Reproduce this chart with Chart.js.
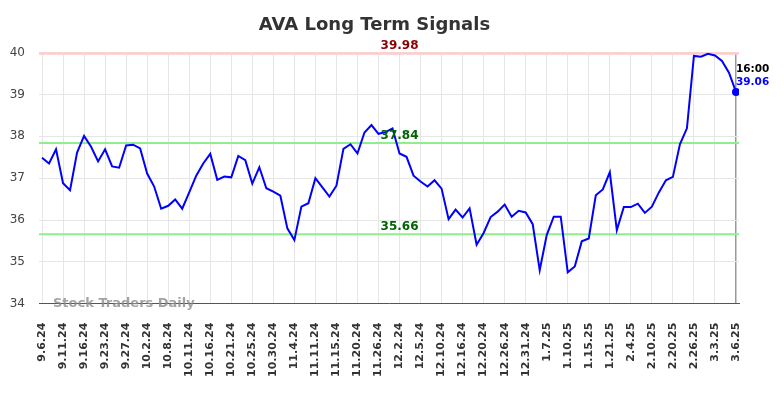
<!DOCTYPE html>
<html><head><meta charset="utf-8">
<script src="https://cdn.jsdelivr.net/npm/chart.js@4.4.1/dist/chart.umd.min.js"></script>
<style>html,body{margin:0;padding:0;background:#fff}#wrap{width:784px;height:398px}</style>
</head><body><div id="wrap"><canvas id="c" width="784" height="398"></canvas></div>
<script>
const chartTitle = 'AVA Long Term Signals';
const tickLabels = ['9.6.24','9.11.24','9.16.24','9.23.24','9.27.24','10.2.24','10.8.24','10.11.24','10.16.24','10.21.24','10.25.24','10.30.24','11.4.24','11.11.24','11.15.24','11.20.24','11.26.24','12.2.24','12.5.24','12.10.24','12.16.24','12.20.24','12.26.24','12.31.24','1.7.25','1.10.25','1.15.25','1.21.25','2.4.25','2.10.25','2.20.25','2.26.25','3.3.25','3.6.25'];
const values = [
 37.49,37.35,37.69,36.88,36.71,37.61,38.01,37.75,37.40,37.69,
 37.28,37.25,37.78,37.80,37.71,37.11,36.80,36.27,36.34,36.49,
 36.27,36.66,37.06,37.35,37.58,36.96,37.04,37.02,37.53,37.43,
 36.87,37.26,36.76,36.68,36.58,35.80,35.52,36.32,36.40,37.00,
 36.78,36.56,36.82,37.70,37.81,37.59,38.09,38.27,38.06,38.10,
 38.19,37.59,37.51,37.06,36.92,36.80,36.95,36.75,36.02,36.25,
 36.06,36.28,35.41,35.69,36.07,36.20,36.37,36.08,36.22,36.18,
 35.90,34.80,35.64,36.08,36.08,34.75,34.89,35.49,35.56,36.59,
 36.73,37.14,35.76,36.31,36.31,36.39,36.17,36.32,36.66,36.95,
 37.03,37.81,38.19,39.92,39.90,39.97,39.93,39.80,39.52,39.06
];
const resistanceLevels = [39.98];
const supportLevels = [37.84, 35.66];
const lastTimeLabel = '16:00';
const watermarkText = 'Stock Traders Daily';
const pointsPerTick = 3;

const levelPlugin = {
  id: 'levels',
  beforeDatasetsDraw(chart) {
    const {ctx, chartArea: a, scales: {y}} = chart;
    ctx.save();
    const draw = (v, color, w) => {
      const py = y.getPixelForValue(v);
      ctx.strokeStyle = color; ctx.lineWidth = w;
      ctx.beginPath(); ctx.moveTo(a.left, py); ctx.lineTo(a.right, py); ctx.stroke();
    };
    resistanceLevels.forEach(v => draw(v, '#ffcccc', 2.5));
    supportLevels.forEach(v => draw(v, '#90ee90', 2));
    ctx.restore();
  },
  afterDatasetsDraw(chart) {
    const {ctx, scales: {x, y}} = chart;
    ctx.save();
    ctx.font = 'bold 12px "DejaVu Sans"';
    ctx.textAlign = 'center';
    ctx.textBaseline = 'alphabetic';
    const lx = x.getPixelForValue(51);
    resistanceLevels.forEach(v => { ctx.fillStyle = '#8b0000'; ctx.fillText(v.toFixed(2), lx, y.getPixelForValue(v) - 4); });
    supportLevels.forEach(v => { ctx.fillStyle = '#006400'; ctx.fillText(v.toFixed(2), lx, y.getPixelForValue(v) - 4); });
    const li = values.length - 1;
    const px = x.getPixelForValue(li), py = y.getPixelForValue(values[li]);
    ctx.textAlign = 'left'; ctx.textBaseline = 'middle';
    ctx.font = 'bold 10.5px "DejaVu Sans"';
    ctx.fillStyle = '#000'; ctx.fillText(lastTimeLabel, px, py - 23);
    ctx.fillStyle = '#0000ff'; ctx.fillText(values[li].toFixed(2), px, py - 10);
    ctx.restore();
  },
  afterDraw(chart) {
    const {ctx, chartArea: a} = chart;
    ctx.save();
    ctx.font = 'bold 13px "DejaVu Sans"';
    ctx.fillStyle = 'rgba(140,140,140,0.8)';
    ctx.textAlign = 'left'; ctx.textBaseline = 'alphabetic';
    ctx.fillText(watermarkText, a.left + 14, a.bottom + 3);
    ctx.restore();
  }
};

new Chart(document.getElementById('c'), {
  type: 'line',
  data: {
    datasets: [{
      data: values.map((v, i) => ({x: i, y: v})),
      borderColor: '#0000ff',
      backgroundColor: '#0000ff',
      borderWidth: 2,
      tension: 0,
      pointRadius: ctx => ctx.dataIndex === values.length - 1 ? 4 : 0,
      pointHoverRadius: 0,
      pointBackgroundColor: '#0000ff',
      pointBorderWidth: 0
    }]
  },
  options: {
    responsive: false,
    animation: false,
    devicePixelRatio: 1,
    layout: {padding: {left: 10, right: 45, top: 0, bottom: 2}},
    plugins: {
      legend: {display: false},
      tooltip: {enabled: false},
      title: {display: true, text: chartTitle, color: '#333', font: {family: 'DejaVu Sans', size: 18, weight: 'bold'}, padding: {top: 15, bottom: 16}}
    },
    scales: {
      x: {
        type: 'linear',
        min: -0.43, max: values.length - 1 + 0.43,
        afterBuildTicks: s => { s.ticks = tickLabels.map((_, k) => ({value: k * pointsPerTick})); },
        afterFit: s => { s.paddingLeft = 0; s.paddingRight = 0; },
        ticks: {autoSkip: false, minRotation: 90, maxRotation: 90, padding: 19, color: '#333',
          font: {family: 'DejaVu Sans', size: 11, weight: 'bold'},
          callback: (v, i) => tickLabels[i]},
        grid: {color: c => c.index === tickLabels.length - 1 ? '#999' : '#e6e6e6', lineWidth: c => c.index === tickLabels.length - 1 ? 1.5 : 1, drawTicks: false},
        border: {display: true, color: '#555', width: 1}
      },
      y: {
        min: 34, max: 40,
        afterFit: s => { s.width = 29; },
        ticks: {stepSize: 1, padding: 14, color: '#444', font: {family: 'DejaVu Sans', size: 12}},
        grid: {color: '#e6e6e6', drawTicks: false},
        border: {display: false}
      }
    }
  },
  plugins: [levelPlugin]
});
</script></body></html>
